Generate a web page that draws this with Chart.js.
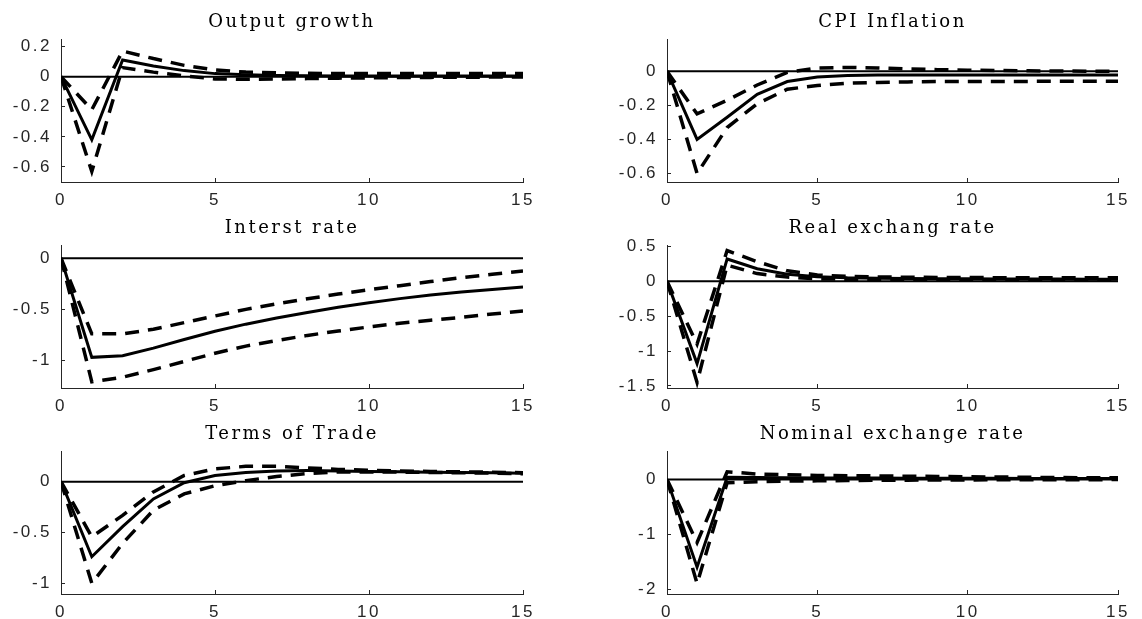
<!DOCTYPE html>
<html>
<head>
<meta charset="utf-8">
<script src="https://cdn.jsdelivr.net/npm/chart.js@4.4.1/dist/chart.umd.min.js"></script>
<style>
  html, body { margin: 0; padding: 0; background: #fff; }
  #fig { position: relative; width: 1142px; height: 619px; }
  #fig canvas { position: absolute; }
</style>
</head>
<body>
<div id="fig"></div>
<script>
// impulse horizons (quarters)
var horizons = [0, 1, 2, 3, 4, 5, 6, 7, 8, 9, 10, 11, 12, 13, 14, 15];
var xTicks = [0, 5, 10, 15];

// Output growth
var outMed = [0, -0.42, 0.11, 0.07, 0.04, 0.02, 0.012, 0.008, 0.006, 0.005, 0.005, 0.005, 0.005, 0.005, 0.005, 0.005];
var outUp  = [0, -0.22, 0.17, 0.12, 0.075, 0.045, 0.03, 0.025, 0.022, 0.02, 0.02, 0.02, 0.02, 0.02, 0.02, 0.02];
var outLo  = [0, -0.63, 0.06, 0.03, 0.005, -0.015, -0.018, -0.016, -0.013, -0.01, -0.008, -0.006, -0.005, -0.004, -0.003, -0.002];
var outTicks = [-0.6, -0.4, -0.2, 0, 0.2];

// CPI Inflation
var cpiMed = [0, -0.40, -0.27, -0.135, -0.06, -0.033, -0.025, -0.022, -0.021, -0.021, -0.021, -0.021, -0.021, -0.021, -0.021, -0.021];
var cpiUp  = [0, -0.25, -0.17, -0.08, -0.006, 0.02, 0.023, 0.02, 0.015, 0.01, 0.007, 0.005, 0.003, 0.002, 0.001, 0];
var cpiLo  = [0, -0.60, -0.33, -0.19, -0.105, -0.083, -0.07, -0.065, -0.062, -0.06, -0.06, -0.059, -0.059, -0.058, -0.058, -0.058];
var cpiTicks = [-0.6, -0.4, -0.2, 0];

// Interest rate
var intMed = [0, -0.97, -0.955, -0.88, -0.795, -0.715, -0.645, -0.585, -0.53, -0.48, -0.435, -0.395, -0.36, -0.33, -0.305, -0.28];
var intUp  = [0, -0.74, -0.74, -0.695, -0.63, -0.565, -0.5, -0.447, -0.397, -0.35, -0.308, -0.268, -0.228, -0.19, -0.157, -0.125];
var intLo  = [0, -1.21, -1.165, -1.09, -1.01, -0.93, -0.86, -0.805, -0.755, -0.712, -0.672, -0.636, -0.606, -0.578, -0.546, -0.515];
var intTicks = [-1, -0.5, 0];

// Real exchange rate
var rerMed = [0, -1.18, 0.32, 0.18, 0.10, 0.065, 0.05, 0.045, 0.04, 0.037, 0.035, 0.033, 0.032, 0.031, 0.03, 0.03];
var rerUp  = [0, -0.90, 0.44, 0.28, 0.15, 0.09, 0.07, 0.062, 0.058, 0.055, 0.053, 0.052, 0.051, 0.05, 0.05, 0.05];
var rerLo  = [0, -1.45, 0.23, 0.11, 0.06, 0.035, 0.028, 0.024, 0.021, 0.019, 0.018, 0.017, 0.016, 0.015, 0.015, 0.015];
var rerTicks = [-1.5, -1, -0.5, 0, 0.5];

// Terms of trade
var totMed = [0, -0.735, -0.44, -0.17, -0.01, 0.06, 0.09, 0.105, 0.108, 0.105, 0.1, 0.097, 0.093, 0.09, 0.087, 0.083];
var totUp  = [0, -0.54, -0.33, -0.10, 0.06, 0.125, 0.15, 0.15, 0.135, 0.12, 0.112, 0.105, 0.1, 0.096, 0.092, 0.088];
var totLo  = [0, -0.995, -0.605, -0.28, -0.12, -0.04, 0.01, 0.05, 0.08, 0.095, 0.095, 0.093, 0.09, 0.087, 0.083, 0.078];
var totTicks = [-1, -0.5, 0];

// Nominal exchange rate
var nerMed = [0, -1.6, 0.04, 0.035, 0.03, 0.028, 0.026, 0.025, 0.024, 0.023, 0.022, 0.021, 0.02, 0.02, 0.02, 0.02];
var nerUp  = [0, -1.15, 0.14, 0.1, 0.085, 0.075, 0.07, 0.065, 0.06, 0.055, 0.05, 0.045, 0.04, 0.035, 0.03, 0.03];
var nerLo  = [0, -1.9, -0.06, -0.04, -0.03, -0.025, -0.02, -0.015, -0.012, -0.01, -0.008, -0.006, -0.005, -0.004, -0.003, -0.002];
var nerTicks = [-2, -1, 0];

var panels = [
  { title: 'Output growth',         med: outMed, up: outUp, lo: outLo, ticks: outTicks, ymin: -0.7,  ymax: 0.25 },
  { title: 'CPI Inflation',         med: cpiMed, up: cpiUp, lo: cpiLo, ticks: cpiTicks, ymin: -0.65, ymax: 0.19 },
  { title: 'Interst rate',          med: intMed, up: intUp, lo: intLo, ticks: intTicks, ymin: -1.27, ymax: 0.13 },
  { title: 'Real exchang rate',     med: rerMed, up: rerUp, lo: rerLo, ticks: rerTicks, ymin: -1.53, ymax: 0.52 },
  { title: 'Terms of Trade',        med: totMed, up: totUp, lo: totLo, ticks: totTicks, ymin: -1.1,  ymax: 0.3 },
  { title: 'Nominal exchange rate', med: nerMed, up: nerUp, lo: nerLo, ticks: nerTicks, ymin: -2.09, ymax: 0.52 }
];

function pts(ys) {
  return horizons.map(function (h, i) { return { x: h, y: ys[i] }; });
}

// widen glyph spacing a little, like the exported figure
var spacing = {
  id: 'spacing',
  beforeLayout: function (chart) { chart.ctx.letterSpacing = '2.5px'; },
  beforeDraw: function (chart) { chart.ctx.letterSpacing = '2.5px'; }
};

var axisColor = '#262626';
var fig = document.getElementById('fig');

panels.forEach(function (p, i) {
  var col = i % 2, row = Math.floor(i / 2);
  var cv = document.createElement('canvas');
  cv.width = 571;
  cv.height = 206;
  cv.style.left = (col * 571) + 'px';
  cv.style.top = (row * 206) + 'px';
  fig.appendChild(cv);

  var yWidth = col === 0 ? 61 : 96;
  var padRight = col === 0 ? 48 : 14;

  new Chart(cv, {
    type: 'line',
    data: {
      datasets: [
        { data: pts(p.med), borderColor: '#000', borderWidth: 3 },
        { data: pts(p.up), borderColor: '#000', borderWidth: 3.5, borderDash: [14, 9] },
        { data: pts(p.lo), borderColor: '#000', borderWidth: 3.5, borderDash: [14, 9] },
        { data: [{ x: horizons[0], y: 0 }, { x: horizons[horizons.length - 1], y: 0 }], borderColor: '#000', borderWidth: 2 }
      ]
    },
    options: {
      responsive: false,
      animation: false,
      layout: { padding: { left: 0, right: padRight, top: 0, bottom: 0 } },
      elements: { point: { radius: 0 }, line: { tension: 0 } },
      plugins: {
        legend: { display: false },
        tooltip: { enabled: false },
        title: {
          display: true,
          text: p.title,
          fullSize: false,
          color: '#000',
          font: { family: 'DejaVu Serif', size: 18, weight: 'normal', lineHeight: 1.2 },
          padding: { top: 12, bottom: 5.4 }
        }
      },
      scales: {
        x: {
          type: 'linear',
          min: 0,
          max: 15,
          afterBuildTicks: function (s) { s.ticks = xTicks.map(function (v) { return { value: v }; }); },
          afterFit: function (s) { s.height = 24; },
          border: { color: axisColor, width: 1 },
          grid: { drawOnChartArea: false, tickLength: -4, color: axisColor },
          ticks: {
            color: axisColor,
            font: { family: 'Liberation Sans', size: 17 },
            padding: 12,
            maxRotation: 0,
            autoSkip: false,
            callback: function (v) { return String(v); }
          }
        },
        y: {
          min: p.ymin,
          max: p.ymax,
          afterBuildTicks: function (s) { s.ticks = p.ticks.map(function (v) { return { value: v }; }); },
          afterFit: function (s) { s.width = yWidth; },
          border: { color: axisColor, width: 1 },
          grid: { drawOnChartArea: false, tickLength: -4, color: axisColor },
          ticks: {
            color: axisColor,
            font: { family: 'Liberation Sans', size: 17 },
            padding: 13,
            autoSkip: false,
            callback: function (v) { return String(v); }
          }
        }
      }
    },
    plugins: [spacing]
  });
});
</script>
</body>
</html>
